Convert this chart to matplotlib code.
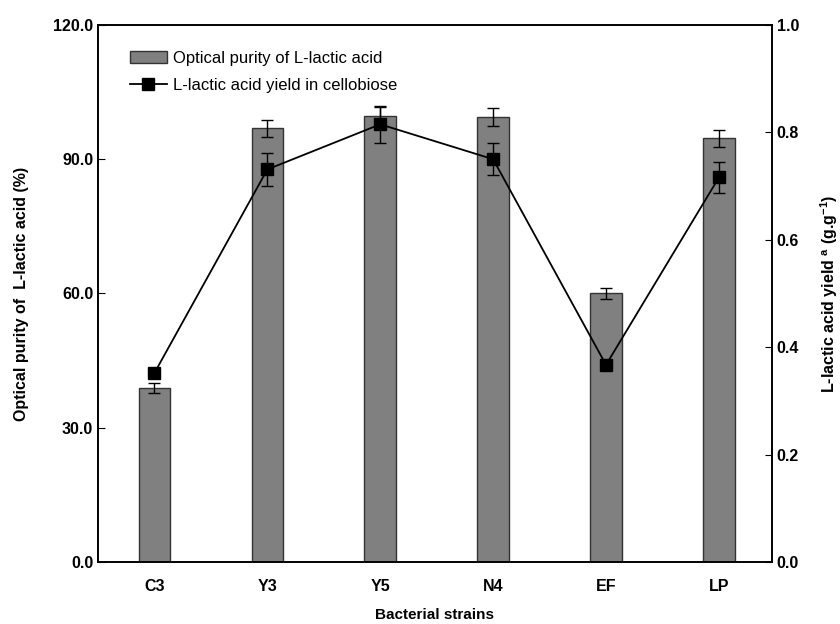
import matplotlib
matplotlib.use("Agg")
import matplotlib.pyplot as plt
import numpy as np

plt.rcParams['font.family'] = ['Liberation Sans', 'DejaVu Sans']
plt.rcParams['mathtext.default'] = 'regular'

strains = ["C3", "Y3", "Y5", "N4", "EF", "LP"]
purity = [38.9, 96.9, 99.6, 99.4, 60.0, 94.7]
purity_err = [1.2, 1.9, 2.0, 2.0, 1.2, 1.9]
yield_vals = [0.352, 0.731, 0.815, 0.750, 0.367, 0.716]
yield_err = [0.010, 0.030, 0.034, 0.030, 0.008, 0.028]

fig = plt.figure(figsize=(8.4, 6.24), dpi=100)
ax = fig.add_axes([0.1167, 0.0994, 0.8023, 0.8606])
x = np.arange(len(strains))
bars = ax.bar(x, purity, width=0.28, color="#808080", edgecolor="#333333", linewidth=1.0,
              label="Optical purity of L-lactic acid", zorder=2)
ax.errorbar(x, purity, yerr=purity_err, fmt="none", ecolor="black", elinewidth=1.0,
            capsize=4, capthick=1.0, zorder=3)
ax.set_xlim(-0.5, 5.47)
ax.set_ylim(0, 120)
ax.set_yticks([0, 30, 60, 90, 120])
ax.set_yticklabels(["0.0", "30.0", "60.0", "90.0", "120.0"])
ax.set_xticks(x)
ax.set_xticklabels(strains)
ax.tick_params(axis="x", length=0, pad=12)
ax.tick_params(axis="y", direction="in", length=5)
for lab in ax.get_xticklabels() + ax.get_yticklabels():
    lab.set_fontweight("bold")
    lab.set_fontsize(11.5)
ax.set_xlabel("Bacterial strains", fontsize=11, fontweight="bold", labelpad=10)
ax.set_ylabel("Optical purity of  L-lactic acid (%)", fontsize=11.5, fontweight="bold", labelpad=17)

ax2 = ax.twinx()
line, = ax2.plot(x, yield_vals, color="black", marker="s", markersize=9, linewidth=1.3,
                 label="L-lactic acid yield in cellobiose", zorder=4)
ax2.errorbar(x, yield_vals, yerr=yield_err, fmt="none", ecolor="black", elinewidth=1.0,
             capsize=4, capthick=1.0, zorder=4)
ax2.set_ylim(0, 1.0)
ax2.set_yticks([0, 0.2, 0.4, 0.6, 0.8, 1.0])
ax2.set_yticklabels(["0.0", "0.2", "0.4", "0.6", "0.8", "1.0"])
ax2.tick_params(axis="y", direction="in", length=5)
for lab in ax2.get_yticklabels():
    lab.set_fontweight("bold")
    lab.set_fontsize(11.5)
ax2.set_ylabel("L-lactic acid yield $^{a}$ (g.g$^{-1}$)", fontsize=11.5, fontweight="bold", labelpad=14)
ax2.set_zorder(ax.get_zorder() + 1)
ax2.patch.set_visible(False)

for a in (ax, ax2):
    for s in a.spines.values():
        s.set_linewidth(1.2)

leg = ax.legend([bars, line], ["Optical purity of L-lactic acid", "L-lactic acid yield in cellobiose"],
                loc="upper left", bbox_to_anchor=(0.025, 0.98), frameon=False, fontsize=12,
                handlelength=2.2, handletextpad=0.4, labelspacing=0.75)

fig.savefig("out.png", dpi=100)
